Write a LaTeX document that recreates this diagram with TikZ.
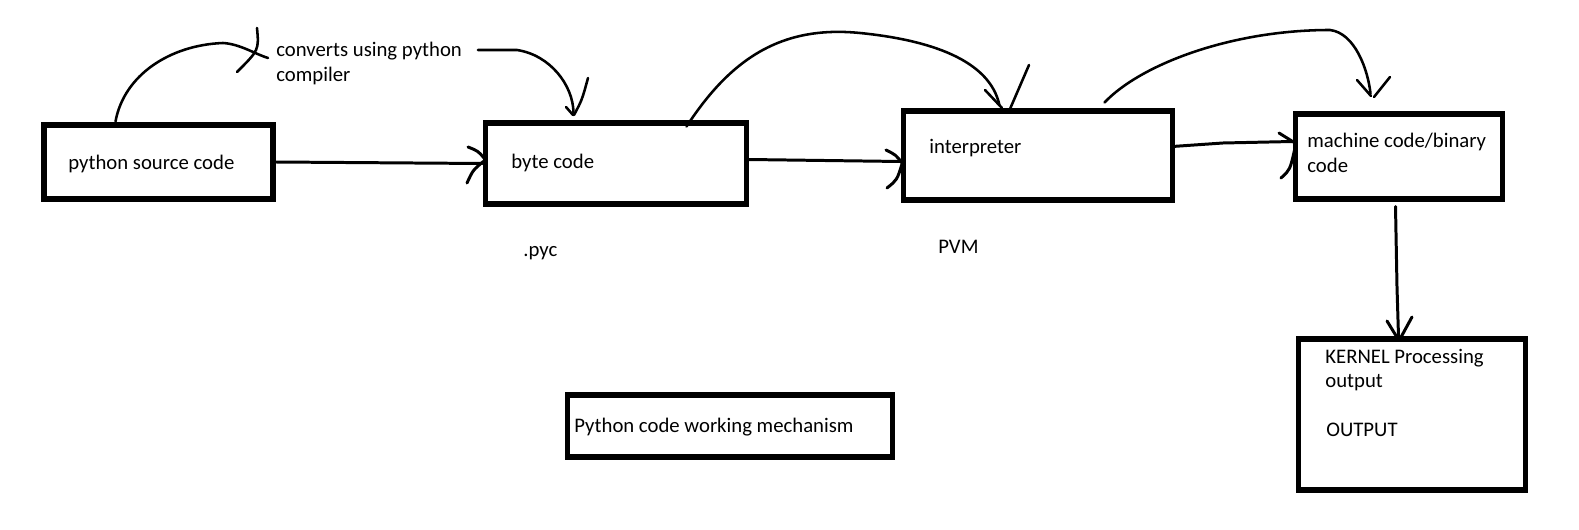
\documentclass[tikz,border=0pt]{standalone}
\usepackage{fontspec}
\setmainfont{Carlito}
\usetikzlibrary{fit,calc}
\begin{document}
\begin{tikzpicture}[x=0.02cm,y=-0.02cm,
  box/.style={draw, line width=2.85pt, inner sep=0pt},
  conn/.style={line width=1.7pt, line cap=round, line join=round},
  curv/.style={line width=1.45pt, line cap=round, line join=round},
  lbl/.style={anchor=base west, inner sep=0pt, font=\fontsize{11.8}{14.8}\selectfont}]
\useasboundingbox (0,0) rectangle (1579,530);

% boxes
\node[box, fit={(44,125) (273,199)}] (b1) {};
\node[box, fit={(485,123) (746,204)}] (b2) {};
\node[box, fit={(903,111) (1172,200)}] (b3) {};
\node[box, fit={(1295,114) (1502,199)}] (b4) {};
\node[box, fit={(1298,339) (1525,490)}] (b5) {};
\node[box, fit={(567,395) (892,457)}] (b6) {};

% texts
\node[lbl] (t1) at (68,170) {python source code};
\node[lbl] (t2) at (511,169) {byte code};
\node[lbl] (t3) at (929,154) {interpreter};
\node[lbl] (t4a) at (1307,148) {machine code/binary};
\node[lbl] (t4b) at (1307,173) {code};
\node[lbl] (t5a) at (1325,363) {KERNEL Processing};
\node[lbl] (t5b) at (1325,387) {output};
\node[lbl] (t5c) at (1326,436) {OUTPUT};
\node[lbl] (t6) at (574,432) {Python code working mechanism};
\node[lbl] (tpyc) at (523,256) {.pyc};
\node[lbl] (tpvm) at (938,254) {PVM};
\node[lbl] (tc1) at (276,57) {converts using python};
\node[lbl] (tc2) at (276,82) {compiler};

% named free ends
\coordinate (c1end) at (268,58);
\coordinate (c2start) at (478,50);

% straight connectors
\draw[conn] (b1.east) -- (b2.west);
\draw[conn] (468,147) .. controls (478,151) .. (484,158);
\draw[conn] (467,183) .. controls (473,170) .. (484,161);

\draw[conn] ($(b2.east)+(0,-4)$) -- ($(b3.west)+(0,6)$);
\draw[conn] (886,150) .. controls (896,155) .. (902,163);
\draw[conn] (887,188) .. controls (897,180) .. (902,164);

\draw[conn] ($(b3.east)+(-2,-9)$) -- (1223,143) -- ($(b4.west)+(0,-15)$);
\draw[conn] (1279,133) -- (1295,143);
\draw[conn] (1281,178) .. controls (1290,170) .. (1295,148);

\draw[conn] ($(b4.south)+(-3,5)$) -- (1397,287) -- ($(b5.north)+(-13,0)$);
\draw[conn] (1387,321) -- (1398,339);
\draw[conn] (1412,317) -- (1400,339);

% curved connectors
\draw[curv] ($(b1.north west)+(74,-1)$) .. controls (124,75) and (170,45) .. (223,43)
   .. controls (240,44) and (255,54) .. (c1end);
\draw[curv] (257,28) .. controls (259,50) .. (237,72);

\draw[curv] (c2start) -- (517,50) .. controls (550,55) and (573,85) .. ($(b2.north)+(-42,-8)$);
\draw[curv] (588,78) .. controls (582,100) .. (574,115);
\draw[curv] (566,107) -- (573,115);

\draw[curv] ($(b2.north east)+(-62,6)$) .. controls (730,60) and (780,25) .. (860,33)
   .. controls (930,40) and (990,60) .. ($(b3.north west)+(99,-3)$);
\draw[curv] (985,90) -- (1002,108);
\draw[curv] (1029,65) -- (1010,109);

\draw[curv] ($(b3.north east)+(-70,-6)$) .. controls (1140,65) and (1230,30) .. (1330,30)
   .. controls (1355,33) and (1368,70) .. ($(b4.north west)+(78,-18)$);
\draw[curv] (1357,80) -- (1371,96);
\draw[curv] (1390,77) -- (1374,97);
\end{tikzpicture}
\end{document}
